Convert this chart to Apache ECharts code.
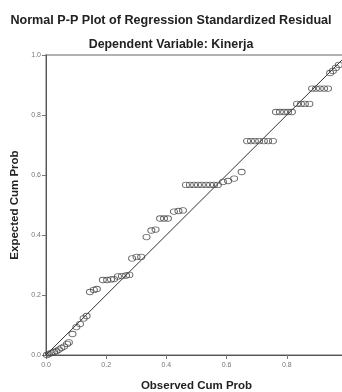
<!DOCTYPE html>
<html>
<head>
<meta charset="utf-8">
<script src="https://cdn.jsdelivr.net/npm/echarts@6/dist/echarts.min.js"></script>
<style>
  html, body { margin: 0; padding: 0; background: #fff; }
  #chart { width: 342px; height: 392px; }
</style>
</head>
<body>
<div id="chart"></div>
<script>
// Observed cum prob (x) and expected cum prob (y)
const observed = [
  0.003, 0.010, 0.018, 0.027, 0.035, 0.043, 0.051, 0.060, 0.070, 0.076,
  0.088, 0.101, 0.113, 0.125, 0.135, 0.146, 0.159, 0.169, 0.189, 0.203,
  0.216, 0.226, 0.239, 0.252, 0.266, 0.277, 0.286, 0.301, 0.316, 0.334,
  0.350, 0.364, 0.379, 0.392, 0.405, 0.425, 0.440, 0.455, 0.465, 0.478,
  0.492, 0.505, 0.518, 0.532, 0.545, 0.558, 0.571, 0.588, 0.605, 0.625,
  0.650, 0.668, 0.681, 0.694, 0.708, 0.724, 0.738, 0.754, 0.764, 0.777,
  0.791, 0.804, 0.817, 0.834, 0.847, 0.860, 0.875, 0.884, 0.897, 0.910,
  0.924, 0.937, 0.944, 0.953, 0.963, 0.973
];
const expected = [
  0.000, 0.003, 0.007, 0.010, 0.013, 0.018, 0.023, 0.028, 0.037, 0.042,
  0.070, 0.093, 0.103, 0.122, 0.130, 0.210, 0.217, 0.220, 0.250, 0.250,
  0.252, 0.253, 0.262, 0.263, 0.265, 0.267, 0.322, 0.327, 0.327, 0.393,
  0.415, 0.418, 0.455, 0.455, 0.455, 0.478, 0.480, 0.482, 0.567, 0.567,
  0.567, 0.567, 0.567, 0.567, 0.567, 0.567, 0.567, 0.577, 0.580, 0.588,
  0.610, 0.713, 0.713, 0.713, 0.713, 0.713, 0.713, 0.713, 0.810, 0.810,
  0.810, 0.810, 0.810, 0.837, 0.837, 0.837, 0.837, 0.888, 0.888, 0.888,
  0.888, 0.888, 0.940, 0.947, 0.957, 0.967
];
// diagonal reference line
const refLine = [[0, 0], [1, 1]];
const axisTicks = [0, 0.2, 0.4, 0.6, 0.8, 1.0];

const points = observed.map((x, i) => [x, expected[i]]);

const chart = echarts.init(document.getElementById('chart'), null, { renderer: 'canvas' });

const axisCommon = {
  type: 'value',
  min: axisTicks[0],
  max: axisTicks[axisTicks.length - 1],
  interval: 0.2,
  nameLocation: 'middle',
  nameTextStyle: { fontFamily: 'Liberation Sans', fontWeight: 'bold', fontSize: 11.5, color: '#222' },
  axisLine: { show: true, lineStyle: { color: '#555', width: 1 } },
  axisTick: { show: true, inside: false, length: 4, lineStyle: { color: '#777' } },
  axisLabel: {
    fontFamily: 'Liberation Sans', fontSize: 7, color: '#777',
    formatter: v => v.toFixed(1)
  },
  splitLine: { show: false }
};

chart.setOption({
  animation: false,
  backgroundColor: '#fff',
  title: [
    {
      text: 'Normal P-P Plot of Regression Standardized Residual',
      left: 'center', top: 9,
      textStyle: { fontFamily: 'Liberation Sans', fontWeight: 'bold', fontSize: 12.6, color: '#222' }
    },
    {
      text: 'Dependent Variable: Kinerja',
      left: 'center', top: 34,
      textStyle: { fontFamily: 'Liberation Sans', fontWeight: 'bold', fontSize: 12.4, color: '#222' }
    }
  ],
  grid: {
    left: 46, top: 55, right: -5, bottom: 37,
    outerBoundsMode: 'none', containLabel: false,
    show: true, borderColor: '#999', borderWidth: 1.5, backgroundColor: '#fff'
  },
  xAxis: Object.assign({}, axisCommon, {
    name: 'Observed Cum Prob', nameGap: 25,
    axisLabel: Object.assign({}, axisCommon.axisLabel, { margin: 7 })
  }),
  yAxis: Object.assign({}, axisCommon, {
    name: 'Expected Cum Prob', nameGap: 24,
    axisLabel: Object.assign({}, axisCommon.axisLabel, { margin: 5 })
  }),
  series: [
    {
      type: 'line',
      data: refLine,
      symbol: 'none',
      lineStyle: { color: '#333', width: 1 },
      silent: true,
      z: 1
    },
    {
      type: 'scatter',
      data: points,
      symbol: 'path://M0,5a5,5 0 1,0 10,0a5,5 0 1,0 -10,0',
      symbolSize: [7, 5.5],
      itemStyle: { color: 'rgba(0,0,0,0)', borderColor: '#444', borderWidth: 0.9 },
      z: 2
    }
  ]
});
</script>
</body>
</html>
